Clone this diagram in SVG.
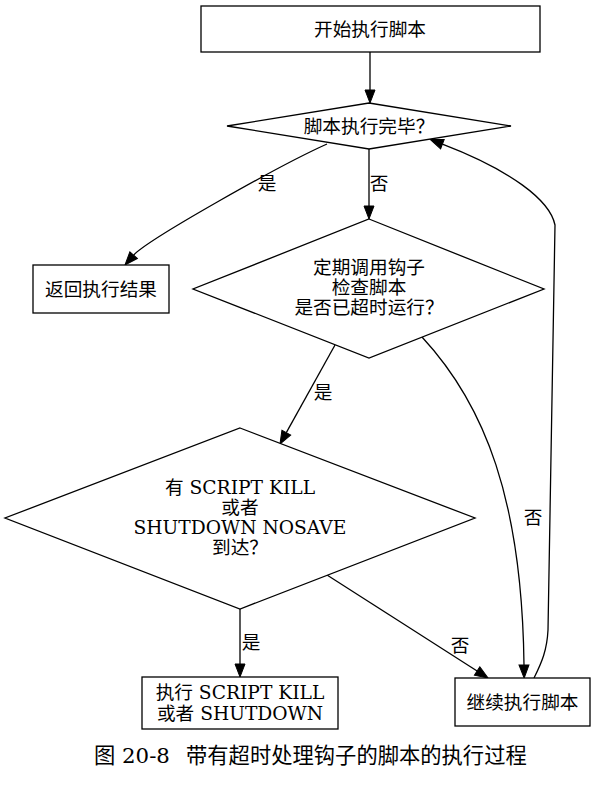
<svg xmlns="http://www.w3.org/2000/svg" width="596" height="785" viewBox="0 0 596 785">
<style>
  .shape { fill: #ffffff; stroke: #000000; stroke-width: 1.3; }
  .edge { fill: none; stroke: #000000; stroke-width: 1.3; }
  text { font-family: "DejaVu Serif", "Noto Sans CJK SC", serif; font-size: 18.67px; fill: #000000; text-anchor: middle; }
  .cap { font-size: 21.3px; text-anchor: start; }
</style>
<defs>
  <marker id="arrow" markerUnits="userSpaceOnUse" markerWidth="14" markerHeight="10" refX="0" refY="5" orient="auto" overflow="visible">
    <path d="M0,0 L13,5 L0,10 z" fill="#000000" stroke="#000000" stroke-width="1"/>
  </marker>
</defs>
<rect x="0" y="0" width="596" height="785" fill="#ffffff"/>

<g id="connectors">
  <path class="edge" d="M370,52 L370,90" marker-end="url(#arrow)"/>
  <path class="edge" d="M327,144 C280,165 147,240 133.6,255.2" marker-end="url(#arrow)"/>
  <text x="267" y="189.5">是</text>
  <path class="edge" d="M369,149 L369,206" marker-end="url(#arrow)"/>
  <text x="379" y="189.5">否</text>
  <path class="edge" d="M335,345 L286.3,432.6" marker-end="url(#arrow)"/>
  <text x="323" y="398.5">是</text>
  <path class="edge" d="M422,337 C485,405 522,500 524,665" marker-end="url(#arrow)"/>
  <text x="533" y="523.5">否</text>
  <path class="edge" d="M240,609 L240,664" marker-end="url(#arrow)"/>
  <text x="251" y="648.5">是</text>
  <path class="edge" d="M327,575 L477.1,671" marker-end="url(#arrow)"/>
  <text x="460" y="651.5">否</text>
  <path class="edge" d="M534,678 C542,662 547,650 548,630 L555,225 C550,200 510,170 442.4,144.1" marker-end="url(#arrow)"/>
</g>

<g id="start">
  <rect class="shape" x="201" y="6" width="339" height="46"/>
  <text x="370" y="35.5">开始执行脚本</text>
</g>

<g id="done">
  <polygon class="shape" points="369,103 511,126 369,149 227,126"/>
  <text x="369" y="132.5">脚本执行完毕？</text>
</g>

<g id="result">
  <rect class="shape" x="33" y="265" width="136" height="48"/>
  <text x="101" y="295.5">返回执行结果</text>
</g>

<g id="hook">
  <polygon class="shape" points="369,219 544,289 369,358 193,289"/>
  <text x="369" y="273.5">定期调用钩子</text>
  <text x="369" y="293.5">检查脚本</text>
  <text x="369" y="313.5">是否已超时运行？</text>
</g>

<g id="kill">
  <polygon class="shape" points="240,428 475,518 240,609 5,518"/>
  <text x="240" y="493.5">有 SCRIPT KILL</text>
  <text x="240" y="513.5">或者</text>
  <text x="240" y="533.5">SHUTDOWN NOSAVE</text>
  <text x="240" y="553.5">到达？</text>
</g>

<g id="exec">
  <rect class="shape" x="142" y="677" width="196" height="52"/>
  <text x="240" y="698.5">执行 SCRIPT KILL</text>
  <text x="240" y="719.5">或者 SHUTDOWN</text>
</g>

<g id="continue">
  <rect class="shape" x="455" y="678" width="135" height="48"/>
  <text x="522.5" y="708.5">继续执行脚本</text>
</g>

<g id="caption">
  <text class="cap" x="94" y="763">图 20-8</text>
  <text class="cap" x="186" y="763">带有超时处理钩子的脚本的执行过程</text>
</g>
</svg>
